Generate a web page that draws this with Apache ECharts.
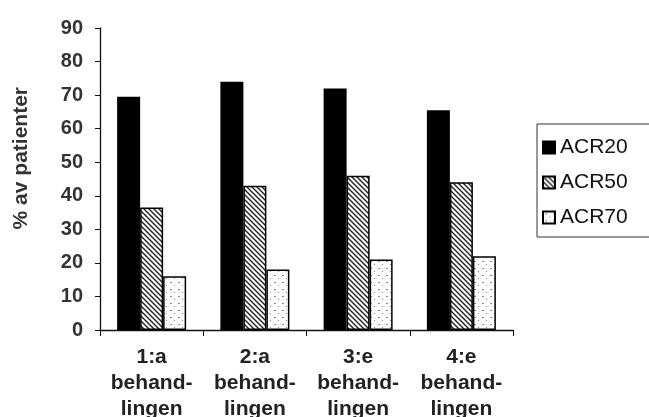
<!DOCTYPE html>
<html><head><meta charset="utf-8">
<script src="https://cdn.jsdelivr.net/npm/echarts@6/dist/echarts.min.js"></script>
<style>html,body{margin:0;padding:0;background:#fff}#c{width:649px;height:417px}</style>
</head><body><div id="c"></div>
<script>
const categories = ["1:a\nbehand-\nlingen", "2:a\nbehand-\nlingen", "3:e\nbehand-\nlingen", "4:e\nbehand-\nlingen"];
const acr20 = [69.5, 74, 72, 65.5];
const acr50 = [36.5, 43, 46, 44];
const acr70 = [16, 18, 21, 22];
const yTicks = [0, 10, 20, 30, 40, 50, 60, 70, 80, 90];

function hatch() {
  const c = document.createElement('canvas'); c.width = 5; c.height = 5;
  const g = c.getContext('2d');
  g.fillStyle = '#fff'; g.fillRect(0, 0, 5, 5);
  g.strokeStyle = '#222'; g.lineWidth = 1.4;
  g.beginPath();
  g.moveTo(-1, -1); g.lineTo(6, 6);
  g.moveTo(-1, 4); g.lineTo(1, 6);
  g.moveTo(4, -1); g.lineTo(6, 1);
  g.stroke();
  return c;
}
function dots() {
  const c = document.createElement('canvas'); c.width = 8; c.height = 7;
  const g = c.getContext('2d');
  g.fillStyle = '#fff'; g.fillRect(0, 0, 8, 7);
  g.fillStyle = '#888';
  g.fillRect(2, 2, 2, 1);
  g.fillRect(6, 5, 1, 1);
  return c;
}
const chart = echarts.init(document.getElementById('c'));
const border = { borderColor: '#000', borderWidth: 1.5 };
chart.setOption({
  animation: false,
  grid: { left: 100, right: 136, top: 28, bottom: 87, outerBoundsMode: 'none', containLabel: false },
  legend: {
    orient: 'vertical', left: 537, top: 124,
    padding: [13, 40, 9, 5], itemGap: 14,
    borderColor: '#333', borderWidth: 1,
    icon: 'rect',
    itemWidth: 12, itemHeight: 12,
    textStyle: { fontFamily: 'Liberation Sans', fontSize: 21, color: '#111', padding: [0, 0, 0, 0] },
    data: ['ACR20', 'ACR50', 'ACR70']
  },
  graphic: [{
    type: 'text', left: 11, top: 87, rotation: Math.PI / 2,
    style: { text: '% av patienter', font: 'bold 21px "Liberation Sans"', fill: '#333' }
  }],
  xAxis: {
    type: 'category', data: categories,
    axisLine: { lineStyle: { color: '#111', width: 1.3 } },
    axisTick: { show: true, alignWithLabel: false, length: 6, lineStyle: { color: '#111' } },
    axisLabel: { interval: 0, hideOverlap: false, fontFamily: 'Liberation Sans', fontWeight: 'bold', fontSize: 21, color: '#222', lineHeight: 26, margin: 14 }
  },
  yAxis: {
    type: 'value', min: 0, max: 90, interval: 10,
    splitLine: { show: false },
    axisLine: { show: true, lineStyle: { color: '#111', width: 1.3 } },
    axisTick: { show: true, length: 5, lineStyle: { color: '#111' } },
    axisLabel: { fontFamily: 'Liberation Sans', fontWeight: 'bold', fontSize: 20, color: '#333', margin: 17,
      formatter: v => yTicks.includes(v) ? String(v) : '' }
  },
  series: [
    { name: 'ACR20', type: 'bar', data: acr20, barWidth: 23, barGap: '0%', itemStyle: Object.assign({ color: '#000' }, border) },
    { name: 'ACR50', type: 'bar', data: acr50, barWidth: 23, barGap: '0%', itemStyle: Object.assign({ color: { image: hatch(), repeat: 'repeat' } }, border) },
    { name: 'ACR70', type: 'bar', data: acr70, barWidth: 23, barGap: '0%', itemStyle: Object.assign({ color: { image: dots(), repeat: 'repeat' } }, border) }
  ]
});
</script></body></html>
